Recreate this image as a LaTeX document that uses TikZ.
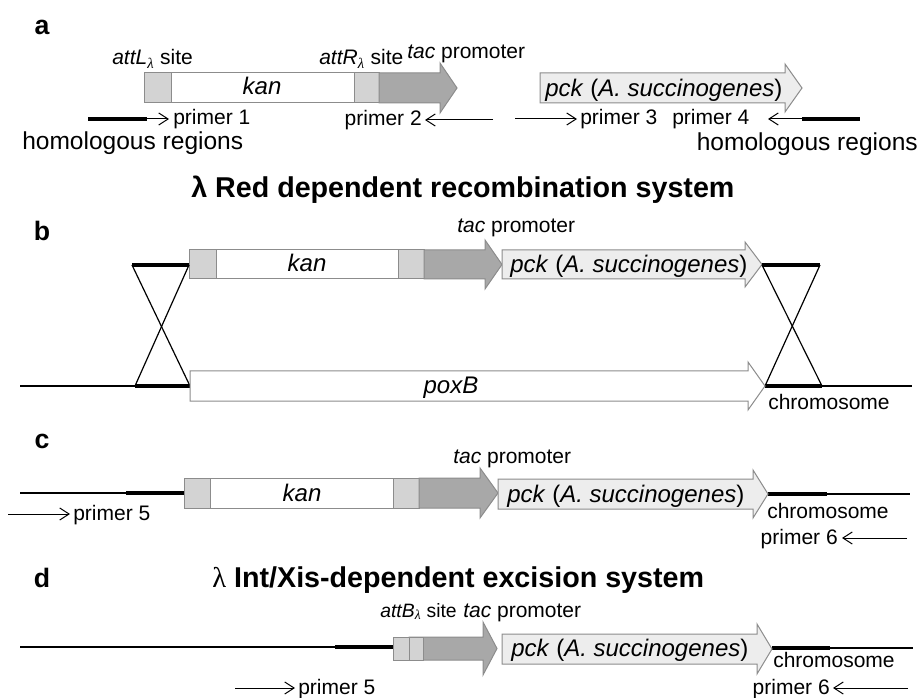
\documentclass[tikz,border=0pt]{standalone}
\usepackage{fontspec}
\setmainfont{Liberation Sans}
\newfontfamily\serifl{Liberation Serif}
\usetikzlibrary{arrows.meta}
\definecolor{boxgray}{HTML}{8C8C8C}
\definecolor{attfill}{HTML}{D3D3D3}
\definecolor{tacfill}{HTML}{A8A8A8}
\definecolor{pckfill}{HTML}{EDEDED}
\newcommand{\lamsub}{\textsubscript{{\serifl\itshape λ}}}
\tikzset{
  lbl/.style={font=\fontsize{15.75}{18}\selectfont, inner sep=0pt},
  smlbl/.style={font=\fontsize{14.5}{17}\selectfont, inner sep=0pt},
  genelbl/.style={font=\fontsize{18}{20}\selectfont\itshape, inner sep=0pt},
  homlbl/.style={font=\fontsize{18.4}{20}\selectfont, inner sep=0pt},
  ttl/.style={font=\fontsize{21.5}{24}\selectfont\bfseries, inner sep=0pt},
  letter/.style={font=\fontsize{20}{22}\selectfont\bfseries, inner sep=0pt},
  box/.style={draw=boxgray, line width=0.75pt, line join=miter},
  attbox/.style={box, fill=attfill},
  tacbox/.style={box, fill=tacfill},
  pckbox/.style={box, fill=pckfill},
  whitebox/.style={box, fill=white},
  dnaline/.style={line width=0.9pt},
  hregion/.style={line width=3.2pt},
  crossline/.style={line width=0.9pt},
  primer/.style={line width=0.75pt, -{Straight Barb[length=7pt,width=9pt]}},
}
\begin{document}
\begin{tikzpicture}[x=0.75pt,y=-0.75pt]
\useasboundingbox[fill=white] (0,0) rectangle (924,698);

% ================= panel a =================
\node[letter] (la) at (42,27) {a};
\draw[attbox] (144,73) rectangle (171,103);
\draw[whitebox] (171,73) rectangle (354,103);
\draw[attbox] (354,73) rectangle (379,103);
\draw[tacbox] (379,73) -- (440,73) -- (440,63) -- (457,88) -- (440,113) -- (440,103) -- (379,103) -- cycle;
\node[genelbl, anchor=base] (kana) at (262,95) {kan};
\node[lbl, anchor=base west] (attLa) at (112,65) {\textit{attL}\lamsub\ site};
\node[lbl, anchor=base west] (attRa) at (319,65) {\textit{attR}\lamsub\ site};
\node[lbl, anchor=base west] (taca) at (407,59) {\textit{tac} promoter};
\draw[pckbox] (540,73) -- (785,73) -- (785,64) -- (802,88) -- (785,112) -- (785,103) -- (540,103) -- cycle;
\node[genelbl, anchor=base west] (pcka) at (545,97) {pck \textup{(}A. succinogenes\textup{)}};

\coordinate (h1s) at (88,119);
\coordinate (h1e) at (147,119);
\coordinate (p1t) at (169,119);
\draw[hregion] (h1s) -- (h1e);
\draw[primer] (h1e) -- (p1t);
\node[lbl, anchor=base west] (pr1) at (173,125) {primer 1};

\coordinate (p2s) at (493,120);
\coordinate (p2t) at (425,120);
\draw[primer] (p2s) -- (p2t);
\node[lbl, anchor=base east] (pr2) at (422,126) {primer 2};

\coordinate (p3s) at (515,119);
\coordinate (p3t) at (577,119);
\draw[primer] (p3s) -- (p3t);
\node[lbl, anchor=base west] (pr3) at (580,125) {primer 3};

\coordinate (h4s) at (802,119);
\coordinate (h4e) at (860,119);
\coordinate (p4t) at (768,119);
\draw[hregion] (h4s) -- (h4e);
\draw[primer] (h4s) -- (p4t);
\node[lbl, anchor=base west] (pr4) at (672,125) {primer 4};

\node[homlbl, anchor=base west] (homl) at (22,150) {homologous regions};
\node[homlbl, anchor=base east] (homr) at (918,151) {homologous regions};

% ================= panel b =================
\node[letter] (lb) at (42,231) {b};
\node[ttl, anchor=base west] (tb) at (191,198) {λ Red dependent recombination system};
\node[lbl, anchor=base west] (tacb) at (457,233) {\textit{tac} promoter};
\draw[attbox] (189,250) rectangle (216,279);
\draw[whitebox] (216,250) rectangle (398,279);
\draw[attbox] (398,250) rectangle (424,279);
\draw[tacbox] (424,250) -- (485,250) -- (485,240) -- (502,264.5) -- (485,289) -- (485,279) -- (424,279) -- cycle;
\draw[pckbox] (502,250) -- (745,250) -- (745,242) -- (762,264.5) -- (745,287) -- (745,279) -- (502,279) -- cycle;
\node[genelbl, anchor=base] (kanb) at (307,272) {kan};
\node[genelbl, anchor=base west] (pckb) at (510,273) {pck \textup{(}A. succinogenes\textup{)}};

\coordinate (ulA) at (132,265);
\coordinate (ulB) at (189,265);
\coordinate (urA) at (762,265);
\coordinate (urB) at (820,265);
\coordinate (llA) at (135,386);
\coordinate (llB) at (190,386);
\coordinate (lrA) at (765,386);
\coordinate (lrB) at (822,386);
\coordinate (lstart) at (20,386);
\coordinate (lend) at (912,386);
\draw[hregion] (ulA) -- (ulB);
\draw[hregion] (urA) -- (urB);
\draw[crossline] (ulA) -- (llB);
\draw[crossline] (ulB) -- (llA);
\draw[crossline] (urA) -- (lrB);
\draw[crossline] (urB) -- (lrA);
\draw[dnaline] (lstart) -- (llA);
\draw[dnaline] (lrB) -- (lend);
\draw[hregion] (llA) -- (llB);
\draw[hregion] (lrA) -- (lrB);
\draw[whitebox] (190,371) -- (748,371) -- (748,362) -- (765,386) -- (748,410) -- (748,401) -- (190,401) -- cycle;
\node[genelbl, anchor=base] (poxb) at (451,393) {poxB};
\node[lbl, anchor=base west] (chrb) at (768,409) {chromosome};

% ================= panel c =================
\node[letter] (lc) at (42,441) {c};
\node[lbl, anchor=base west] (tacc) at (453,463) {\textit{tac} promoter};
\coordinate (cl1) at (20,493);
\coordinate (cb1) at (126,493);
\coordinate (cb2) at (184,493);
\coordinate (cb3) at (768,494);
\coordinate (cb4) at (827,494);
\coordinate (cl2) at (910,494);
\draw[dnaline] (cl1) -- (cb1);
\draw[hregion] (cb1) -- (cb2);
\draw[hregion] (cb3) -- (cb4);
\draw[dnaline] (cb4) -- (cl2);
\draw[attbox] (184,478) rectangle (210,508);
\draw[whitebox] (210,478) rectangle (393,508);
\draw[attbox] (393,478) rectangle (419,508);
\draw[tacbox] (419,478) -- (480,478) -- (480,468) -- (498,493) -- (480,518) -- (480,508) -- (419,508) -- cycle;
\draw[pckbox] (498,479) -- (753,479) -- (753,470) -- (768,494) -- (753,518) -- (753,509) -- (498,509) -- cycle;
\node[genelbl, anchor=base] (kanc) at (302,501) {kan};
\node[genelbl, anchor=base west] (pckc) at (507,502) {pck \textup{(}A. succinogenes\textup{)}};
\node[lbl, anchor=base west] (chrc) at (767,518) {chromosome};

\coordinate (p5s) at (8,514);
\coordinate (p5t) at (70,514);
\draw[primer] (p5s) -- (p5t);
\node[lbl, anchor=base west] (pr5c) at (73,520) {primer 5};
\coordinate (p6s) at (907,538);
\coordinate (p6t) at (842,538);
\draw[primer] (p6s) -- (p6t);
\node[lbl, anchor=base east] (pr6c) at (838,544) {primer 6};

% ================= panel d =================
\node[letter] (ld) at (42,578) {d};
\node[ttl, anchor=base west] (td) at (212,587) {{\serifl\mdseries λ} Int/Xis-dependent excision system};
\node[smlbl, anchor=base east] (attBd) at (457,617) {\textit{attB}\lamsub\ site};
\node[lbl, anchor=base west] (tacd) at (463,617) {\textit{tac} promoter};
\coordinate (dl1) at (20,647);
\coordinate (db1) at (335,647);
\coordinate (db2) at (393,647);
\coordinate (db3) at (772,648);
\coordinate (db4) at (830,648);
\coordinate (dl2) at (913,648);
\draw[dnaline] (dl1) -- (db1);
\draw[hregion] (db1) -- (db2);
\draw[hregion] (db3) -- (db4);
\draw[dnaline] (db4) -- (dl2);
\draw[tacbox] (409,637) -- (483,637) -- (483,622) -- (497,648.5) -- (483,675) -- (483,660) -- (409,660) -- cycle;
\draw[attbox] (393,637) rectangle (409,660);
\draw[attbox] (409,637) rectangle (423,660);
\draw[pckbox] (502,634) -- (757,634) -- (757,624) -- (772,649) -- (757,674) -- (757,664) -- (502,664) -- cycle;
\node[genelbl, anchor=base west] (pckd) at (511,656) {pck \textup{(}A. succinogenes\textup{)}};
\node[lbl, anchor=base west] (chrd) at (773,667) {chromosome};

\coordinate (q5s) at (235,688);
\coordinate (q5t) at (295,688);
\draw[primer] (q5s) -- (q5t);
\node[lbl, anchor=base west] (pr5d) at (298,694) {primer 5};
\coordinate (q6s) at (908,688);
\coordinate (q6t) at (833,688);
\draw[primer] (q6s) -- (q6t);
\node[lbl, anchor=base east] (pr6d) at (830,694) {primer 6};
\end{tikzpicture}
\end{document}
